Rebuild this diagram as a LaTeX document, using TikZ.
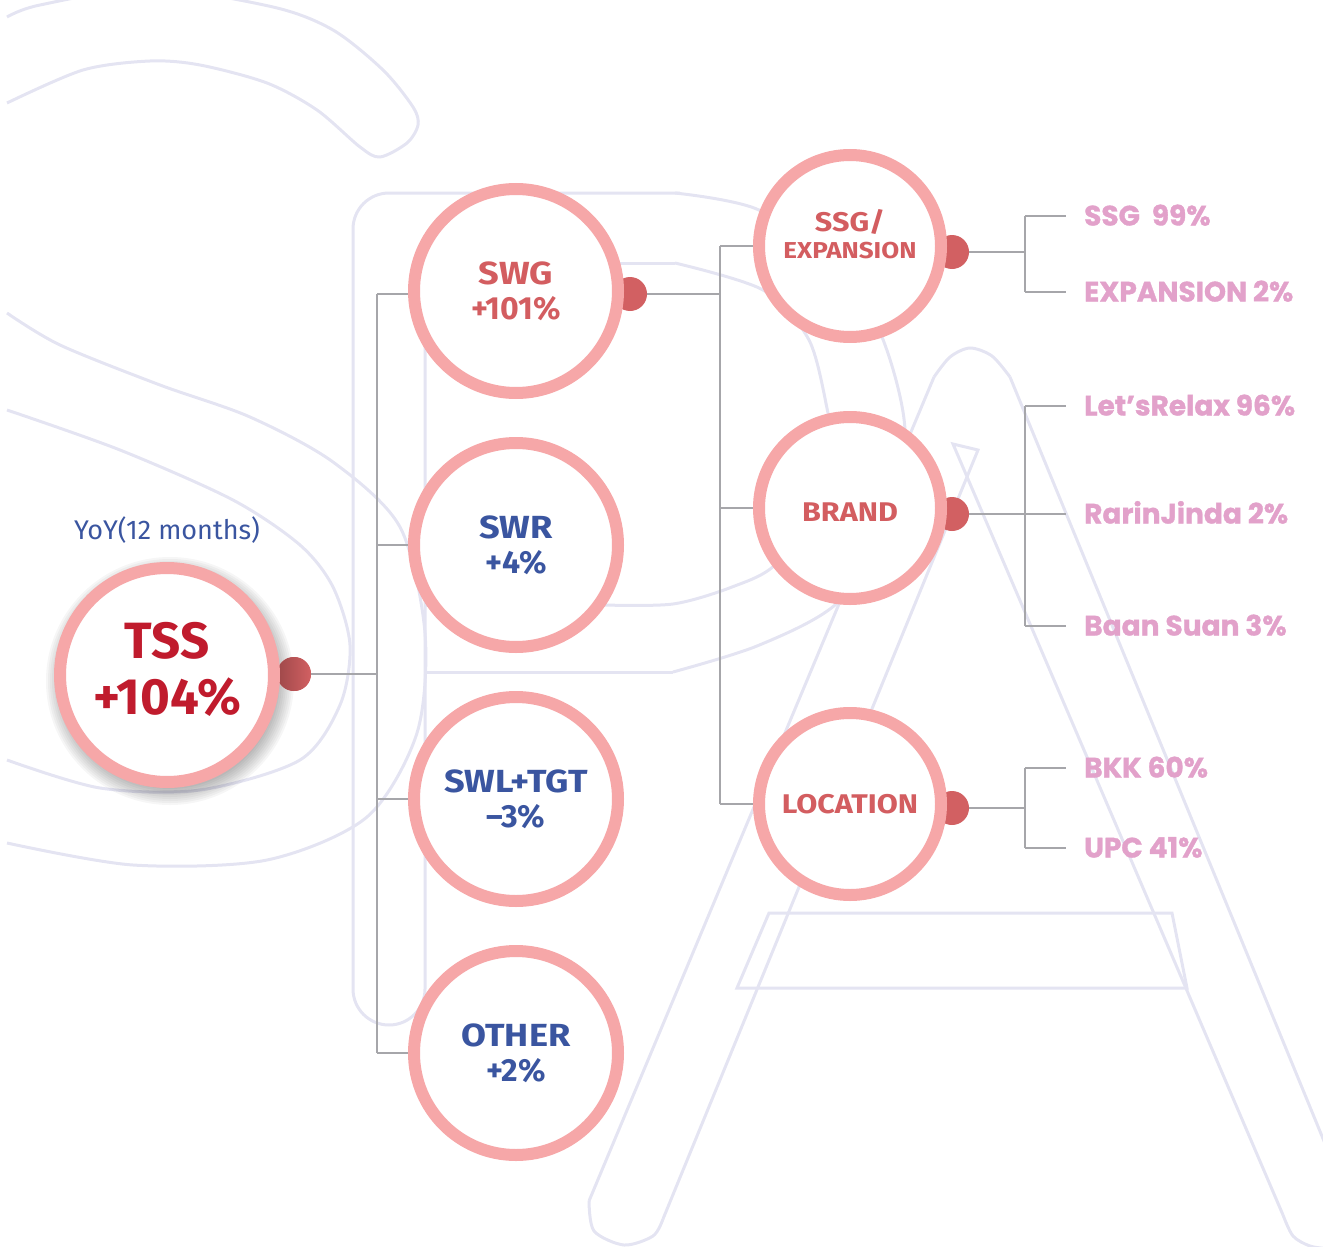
\documentclass[tikz,border=0pt]{standalone}
\usepackage{fontspec}
\setmainfont{Fira Sans}
\newfontfamily\subfont{Fira Sans}[FakeStretch=1.13]
\newfontfamily\leaffont{Poppins}[BoldFeatures={FakeBold=1.2}]
\usetikzlibrary{positioning,calc,backgrounds}

\definecolor{ringpink}{HTML}{F6A7A8}
\definecolor{knobred}{HTML}{D26062}
\definecolor{tssred}{HTML}{C01B2D}
\definecolor{segred}{HTML}{D35D60}
\definecolor{segblue}{HTML}{3A55A0}
\definecolor{leafpink}{HTML}{E2A1CA}
\definecolor{wiregray}{HTML}{A6A6AA}
\definecolor{ghost}{HTML}{E4E4F2}

\begin{document}
\begin{tikzpicture}[x=1pt, y=-1pt,
  ring/.style={circle, draw=ringpink, line width=12pt, fill=white, align=center, inner sep=0pt},
  tssring/.style={ring, minimum size=214pt, text=tssred, font=\bfseries\fontsize{51}{56}\selectfont},
  segring/.style={ring, minimum size=204pt, font=\subfont\bfseries\fontsize{32}{35}\selectfont},
  subring/.style={ring, minimum size=182pt, text=segred, font=\subfont\bfseries\fontsize{27}{29}\selectfont},
  knob/.style={circle, fill=knobred, minimum size=34pt, inner sep=0pt},
  wire/.style={draw=wiregray, line width=2.2pt},
  leaf/.style={anchor=west, inner sep=0pt, text height=19pt, text depth=0pt, text=leafpink, font=\leaffont\bfseries\fontsize{28}{30}\selectfont},
  ghostline/.style={draw=ghost, line width=3pt}
]
\useasboundingbox (0,0) rectangle (1323,1247);

% faint S P A lettering behind the chart
\begin{scope}[on background layer]
  \draw[ghostline] plot[smooth] coordinates {(7,17) (40,5) (150,-12) (273,7) (333,30) (383,70) (413,107) (418,125) (407,143) (380,157) (360,147) (317,110) (267,83) (200,65) (150,61) (83,70) (7,103)};
  \draw[ghostline] plot[smooth] coordinates {(7,313) (60,345) (160,385) (250,417) (333,462) (400,527) (425,633) (417,733) (367,817) (267,860) (133,865) (7,843)};
  \draw[ghostline] plot[smooth] coordinates {(7,410) (120,450) (233,500) (300,545) (333,587) (350,645) (340,705) (300,760) (200,790) (100,788) (7,760)};
  \draw[ghostline, rounded corners=36pt] (425,300) -- (425,1025) -- (353,1025) -- (353,193) -- (680,193);
  \draw[ghostline] plot[smooth] coordinates {(675,193) (759,210) (840,270) (882,337) (905,430) (890,530) (835,605) (757,646) (673,672)};
  \draw[ghostline] (673,672) -- (425,672);
  \draw[ghostline] plot[smooth] coordinates {(604,605) (673,604) (732,587) (776,564) (820,500) (832,440) (828,413) (809,340) (763,290) (675,263)};
  \draw[ghostline] (675,263) -- (440,263);
  \draw[ghostline] (604,605) -- (425,605);
  \draw[ghostline] (934,377) -- (589,1201);
  \draw[ghostline] plot[smooth] coordinates {(589,1201) (594,1231) (624,1245) (653,1236) (663,1219)};
  \draw[ghostline] (663,1219) -- (978,450) -- (953,444) -- (1283,1215);
  \draw[ghostline] plot[smooth] coordinates {(1283,1215) (1293,1236) (1310,1246) (1330,1249)};
  \draw[ghostline] plot[smooth] coordinates {(934,377) (950,357) (970,348) (992,356) (1010,377)};
  \draw[ghostline] (1010,377) -- (1340,1180);
  \draw[ghostline] (769,913) -- (1172,913) -- (1187,988) -- (737,988) -- cycle;
\end{scope}

\node[tssring] (tss) at (167,675) {\begin{tabular}{@{}c@{}}TSS\\+104\%\end{tabular}};
\node[above=18pt of tss, inner sep=0pt, text=segblue, font=\fontsize{27}{29}\selectfont] (yoy) {YoY(12 months)};

\node[segring, text=segred] (swg) at (516,291) {SWG\\{\rmfamily +101\%}};
\node[segring, text=segblue] (swr) at (516,545) {SWR\\{\rmfamily +4\%}};
\node[segring, text=segblue] (swl) at (516,799) {SWL+TGT\\{\rmfamily –3\%}};
\node[segring, text=segblue] (other) at (516,1053) {OTHER\\{\rmfamily +2\%}};

\node[subring] (ssg) at (850,246) {\raisebox{1pt}[0pt][0pt]{\begin{tabular}{@{}c@{}}SSG/\\[-2pt]{\fontsize{23}{25}\selectfont EXPANSION}\end{tabular}}};
\node[subring] (brand) at (850,508) {\raisebox{-13pt}[0pt][0pt]{BRAND}};
\node[subring] (loc) at (850,804) {LOCATION};

\node[leaf] (ssgshare) at (1084,216) {SSG\ \ 99\%};
\node[leaf] (expshare) at (1084,292) {EXPANSION 2\%};
\node[leaf] (relax) at (1084,406) {Let’sRelax 96\%};
\node[leaf] (rarin) at (1084,514) {RarinJinda 2\%};
\node[leaf] (baan) at (1084,626) {Baan Suan 3\%};
\node[leaf] (bkk) at (1084,768) {BKK 60\%};
\node[leaf] (upc) at (1084,848) {UPC 41\%};

\begin{scope}[on background layer]
  % soft shadow under the TSS ring
  \foreach \r in {108,110,...,124}
    \fill[black, opacity=0.035] ($(tss.center)+(3,6)$) circle[radius=\r];

  \node[knob, left color=knobred!75!black, right color=knobred] (tssknob) at (294,674) {};
  \node[knob] (swgknob) at ($(swg.center)+(114,3)$) {};
  \node[knob] (ssgknob) at ($(ssg.center)+(102,6)$) {};
  \node[knob] (brandknob) at ($(brand.center)+(102,6)$) {};
  \node[knob] (locknob) at ($(loc.center)+(102,4)$) {};

  \coordinate (hub1) at (377,674);
  \draw[wire] (tssknob) -- (hub1);
  \draw[wire] (hub1 |- swgknob) -- (hub1 |- other);
  \foreach \seg in {swgknob,swr,swl,other}
    \draw[wire] (hub1 |- \seg) -- ++(40,0);

  \coordinate (hub2) at (720,294);
  \draw[wire] (swgknob) -- (hub2);
  \draw[wire] (hub2 |- ssg) -- (hub2 |- loc);
  \foreach \sub in {ssg,brand,loc}
    \draw[wire] (hub2 |- \sub) -- (\sub);

  \coordinate (ssgfork) at (1025,252);
  \draw[wire] (ssgknob) -- (ssgfork);
  \draw[wire] (ssgfork |- ssgshare) -- (ssgfork |- expshare);
  \foreach \lf in {ssgshare,expshare}
    \draw[wire] (ssgfork |- \lf) -- ([xshift=-18pt]\lf.west);

  \coordinate (brandfork) at (1025,514);
  \draw[wire] (brandknob) -- (brandfork);
  \draw[wire] (brandfork |- relax) -- (brandfork |- baan);
  \foreach \lf in {relax,rarin,baan}
    \draw[wire] (brandfork |- \lf) -- ([xshift=-18pt]\lf.west);

  \coordinate (locfork) at (1025,808);
  \draw[wire] (locknob) -- (locfork);
  \draw[wire] (locfork |- bkk) -- (locfork |- upc);
  \foreach \lf in {bkk,upc}
    \draw[wire] (locfork |- \lf) -- ([xshift=-18pt]\lf.west);
\end{scope}
\end{tikzpicture}
\end{document}
